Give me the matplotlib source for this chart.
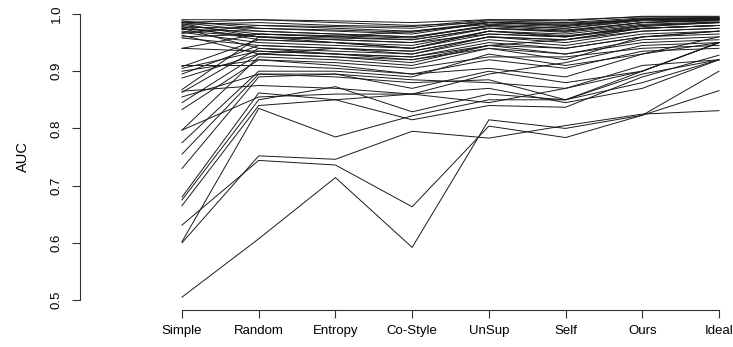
import matplotlib
matplotlib.use("Agg")
import matplotlib.pyplot as plt
import numpy as np

plt.rcParams['font.family'] = ['Liberation Sans', 'DejaVu Sans']

methods = ["Simple", "Random", "Entropy", "Co-Style", "UnSup", "Self", "Ours", "Ideal"]

# AUC per dataset (one entry per line)
simple = [0.505, 0.600, 0.631, 0.602, 0.665, 0.675, 0.680, 0.730, 0.755, 0.775,
          0.797, 0.797, 0.833, 0.845, 0.855, 0.863, 0.865, 0.868, 0.888, 0.895,
          0.900, 0.905, 0.908, 0.910, 0.940, 0.940, 0.990, 0.988, 0.986, 0.985,
          0.983, 0.982, 0.980, 0.978, 0.977, 0.975, 0.973, 0.970, 0.968, 0.966,
          0.963, 0.960, 0.958, 0.985, 0.975]
random_ = [0.607, 0.752, 0.744, 0.835, 0.840, 0.850, 0.862, 0.890, 0.895, 0.900,
           0.855, 0.925, 0.920, 0.930, 0.895, 0.940, 0.875, 0.960, 0.930, 0.945,
           0.920, 0.935, 0.955, 0.910, 0.965, 0.935, 0.990, 0.975, 0.980, 0.970,
           0.960, 0.985, 0.965, 0.955, 0.975, 0.940, 0.970, 0.960, 0.950, 0.980,
           0.930, 0.965, 0.945, 0.990, 0.960]
entropy = [0.714, 0.746, 0.736, 0.785, 0.850, 0.873, 0.850, 0.895, 0.890, 0.900,
           0.860, 0.920, 0.910, 0.925, 0.895, 0.930, 0.870, 0.955, 0.940, 0.940,
           0.915, 0.930, 0.950, 0.905, 0.960, 0.930, 0.988, 0.970, 0.978, 0.965,
           0.955, 0.980, 0.960, 0.950, 0.972, 0.935, 0.965, 0.958, 0.945, 0.975,
           0.925, 0.962, 0.940, 0.985, 0.950]
costyle = [0.592, 0.795, 0.663, 0.822, 0.815, 0.829, 0.860, 0.870, 0.880, 0.890,
           0.860, 0.910, 0.895, 0.920, 0.885, 0.925, 0.860, 0.950, 0.935, 0.930,
           0.905, 0.925, 0.940, 0.895, 0.955, 0.920, 0.985, 0.965, 0.975, 0.960,
           0.950, 0.978, 0.970, 0.945, 0.968, 0.930, 0.960, 0.955, 0.940, 0.970,
           0.915, 0.958, 0.935, 0.980, 0.940]
unsup = [0.815, 0.783, 0.804, 0.850, 0.840, 0.860, 0.845, 0.900, 0.885, 0.930,
         0.870, 0.940, 0.905, 0.945, 0.880, 0.950, 0.895, 0.965, 0.960, 0.955,
         0.925, 0.945, 0.970, 0.920, 0.975, 0.940, 0.990, 0.985, 0.988, 0.980,
         0.975, 0.990, 0.982, 0.970, 0.985, 0.960, 0.978, 0.975, 0.965, 0.985,
         0.945, 0.980, 0.960, 0.985, 0.970]
self_ = [0.800, 0.805, 0.784, 0.850, 0.837, 0.850, 0.870, 0.880, 0.850, 0.910,
         0.845, 0.920, 0.890, 0.930, 0.870, 0.940, 0.915, 0.960, 0.950, 0.945,
         0.925, 0.955, 0.960, 0.905, 0.970, 0.930, 0.990, 0.980, 0.985, 0.975,
         0.970, 0.988, 0.978, 0.965, 0.980, 0.955, 0.972, 0.968, 0.960, 0.982,
         0.940, 0.975, 0.955, 0.984, 0.962]
ours = [0.823, 0.825, 0.823, 0.880, 0.890, 0.900, 0.910, 0.900, 0.895, 0.930,
        0.870, 0.960, 0.930, 0.950, 0.900, 0.960, 0.945, 0.975, 0.970, 0.965,
        0.940, 0.975, 0.980, 0.935, 0.985, 0.955, 0.995, 0.990, 0.993, 0.990,
        0.985, 0.996, 0.990, 0.980, 0.992, 0.975, 0.985, 0.982, 0.978, 0.990,
        0.960, 0.988, 0.970, 0.990, 0.975]
ideal = [0.866, 0.831, 0.900, 0.920, 0.928, 0.950, 0.920, 0.950, 0.920, 0.950,
         0.920, 0.970, 0.960, 0.955, 0.950, 0.965, 0.950, 0.980, 0.975, 0.970,
         0.945, 0.980, 0.985, 0.940, 0.990, 0.960, 0.995, 0.990, 0.994, 0.992,
         0.990, 0.996, 0.993, 0.985, 0.993, 0.980, 0.988, 0.986, 0.985, 0.992,
         0.970, 0.990, 0.975, 0.990, 0.980]

auc = np.array([simple, random_, entropy, costyle, unsup, self_, ours, ideal])
x = np.arange(1, len(methods) + 1)

fig = plt.figure(figsize=(7.33, 3.47), dpi=100)
ax = fig.add_axes([80 / 733, 37 / 347, 650 / 733, 306 / 347])

for j in range(auc.shape[1]):
    ax.plot(x, auc[:, j], color="#1a1a1a", lw=0.7)

# R-like axes: only left and bottom, clipped to the data range
ax.set_xlim(1 - 102 / 76.71, 8 + 11 / 76.71)
ax.set_ylim(0.5 - 10 / 572, 1.0 + 10 / 572)
for s in ["top", "right"]:
    ax.spines[s].set_visible(False)
ax.spines["left"].set_bounds(0.5, 1.0)
ax.spines["bottom"].set_bounds(1, 8)
for s in ["left", "bottom"]:
    ax.spines[s].set_linewidth(0.8)
    ax.spines[s].set_color("#333333")

ax.set_xticks(x)
ax.set_xticklabels(methods)
ax.set_yticks([0.5, 0.6, 0.7, 0.8, 0.9, 1.0])
ax.set_yticklabels(["0.5", "0.6", "0.7", "0.8", "0.9", "1.0"], rotation=90, va="center")
ax.tick_params(axis="both", direction="out", length=5.5, width=0.8, color="#333333",
               labelsize=9.5)
ax.tick_params(axis="y", pad=7)
ax.tick_params(axis="x", pad=5)

ax.set_ylabel("AUC", fontsize=10.5)
ax.yaxis.set_label_coords(-50 / 650, 0.5)

fig.savefig("out.png", dpi=100)
